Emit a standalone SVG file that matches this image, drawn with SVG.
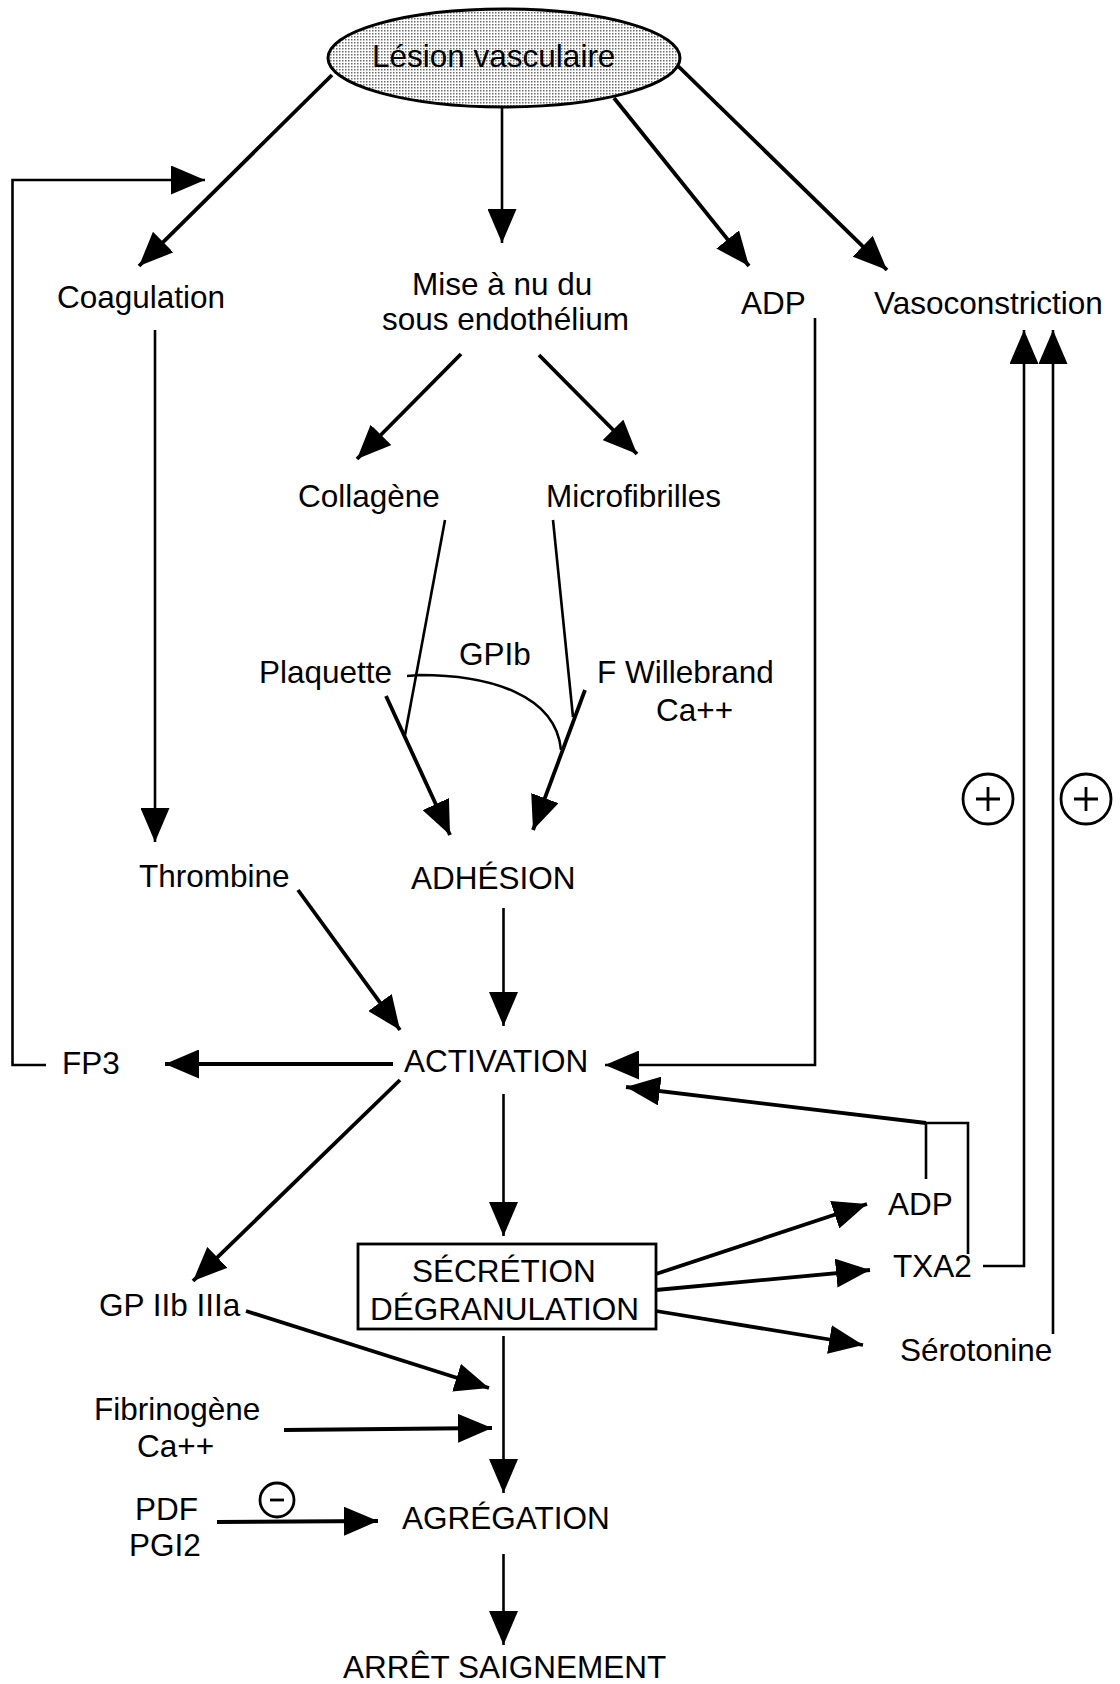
<svg xmlns="http://www.w3.org/2000/svg" width="1120" height="1684" viewBox="0 0 1120 1684">
<defs>
<pattern id="dots" width="3" height="3" patternUnits="userSpaceOnUse">
<rect width="3" height="3" fill="#ffffff"/>
<rect width="1.5" height="1.5" fill="#6a6a6a"/>
</pattern>
<marker id="ah" markerWidth="34" markerHeight="29" refX="34" refY="14.5" orient="auto" markerUnits="userSpaceOnUse">
<path d="M0,0 L34,14.5 L0,29 Z" fill="#000"/>
</marker>
</defs>
<style>
text{font-family:"Liberation Sans",Arial,Helvetica,sans-serif;font-size:31.5px;fill:#000}
.thick{stroke:#000;stroke-width:3.8;fill:none}
.thin{stroke:#000;stroke-width:2.6;fill:none}
.arr{marker-end:url(#ah)}
.ring{stroke:#000;stroke-width:2.8;fill:none}
</style>
<rect width="1120" height="1684" fill="#fff"/>

<g id="connectors">
<line class="thick arr" x1="332" y1="75" x2="139" y2="266"/>
<line class="thick arr" x1="614" y1="98" x2="749" y2="266"/>
<line class="thick arr" x1="678" y1="66" x2="887" y2="270"/>
<line class="thick arr" x1="461" y1="354" x2="357" y2="459"/>
<line class="thick arr" x1="539" y1="355" x2="637" y2="454"/>
<line class="thick arr" x1="386" y1="696" x2="450" y2="835"/>
<line class="thick arr" x1="585" y1="690" x2="533" y2="830"/>
<line class="thick arr" x1="298" y1="890" x2="400" y2="1030"/>
<line class="thick arr" x1="393" y1="1064" x2="165" y2="1064"/>
<line class="thick arr" x1="400" y1="1080" x2="193" y2="1281"/>
<line class="thick arr" x1="926" y1="1123" x2="626" y2="1087"/>
<line class="thick arr" x1="656" y1="1274" x2="867" y2="1204"/>
<line class="thick arr" x1="656" y1="1290" x2="870" y2="1270"/>
<line class="thick arr" x1="656" y1="1311" x2="863" y2="1345"/>
<line class="thick arr" x1="246" y1="1311" x2="489" y2="1388"/>
<line class="thick arr" x1="284" y1="1430" x2="492" y2="1428"/>
<line class="thick arr" x1="217" y1="1522" x2="378" y2="1521"/>

<line class="thin arr" x1="502" y1="107" x2="502" y2="243"/>
<line class="thin arr" x1="155" y1="330" x2="155" y2="842"/>
<line class="thin arr" x1="503.5" y1="908" x2="503.5" y2="1026"/>
<line class="thin arr" x1="503.5" y1="1094" x2="503.5" y2="1236"/>
<line class="thin arr" x1="503.5" y1="1336" x2="503.5" y2="1493"/>
<line class="thin arr" x1="503.5" y1="1554" x2="503.5" y2="1645"/>

<polyline class="thin arr" points="46,1065 12.5,1065 12.5,180 205,180"/>
<polyline class="thin arr" points="815,318 815,1065 605,1065"/>
<polyline class="thin arr" points="983,1266 1024,1266 1024,330"/>
<polyline class="thin arr" points="1053,1334 1053,330"/>

<line class="thin" x1="445" y1="520" x2="405" y2="735"/>
<line class="thin" x1="553" y1="520" x2="573" y2="717"/>
<path class="thin" d="M407,676 L420,675 C490,675 556,695 561,750"/>
<polyline class="thin" points="926,1179 926,1123 968,1123 968,1254"/>
</g>

<g id="lesion">
<ellipse cx="504" cy="58" rx="176" ry="49" fill="url(#dots)" stroke="#000" stroke-width="3"/>
<text x="372" y="67">Lésion vasculaire</text>
</g>
<g id="coagulation"><text x="57" y="308">Coagulation</text></g>
<g id="mise"><text x="412" y="295">Mise à nu du</text><text x="382" y="330">sous endothélium</text></g>
<g id="adp1"><text x="741" y="314">ADP</text></g>
<g id="vaso"><text x="874" y="314">Vasoconstriction</text></g>
<g id="collagene"><text x="298" y="507">Collagène</text></g>
<g id="microfibrilles"><text x="546" y="507">Microfibrilles</text></g>
<g id="gpib"><text x="459" y="665">GPIb</text></g>
<g id="plaquette"><text x="259" y="683">Plaquette</text></g>
<g id="willebrand"><text x="597" y="683">F Willebrand</text><text x="656" y="721">Ca++</text></g>
<g id="thrombine"><text x="139" y="887">Thrombine</text></g>
<g id="adhesion"><text x="411" y="889">ADHÉSION</text></g>
<g id="fp3"><text x="62" y="1074">FP3</text></g>
<g id="activation"><text x="404" y="1072">ACTIVATION</text></g>
<g id="adp2"><text x="888" y="1215">ADP</text></g>
<g id="secretion">
<rect x="358" y="1244" width="298" height="85" fill="none" stroke="#000" stroke-width="2.8"/>
<text x="412" y="1282">SÉCRÉTION</text>
<text x="370" y="1320">DÉGRANULATION</text>
</g>
<g id="txa2"><text x="893" y="1277">TXA2</text></g>
<g id="gp2b3a"><text x="99" y="1316">GP IIb IIIa</text></g>
<g id="serotonine"><text x="900" y="1361">Sérotonine</text></g>
<g id="fibrinogene"><text x="94" y="1420">Fibrinogène</text><text x="137" y="1457">Ca++</text></g>
<g id="pdf"><text x="135" y="1520">PDF</text><text x="129" y="1556">PGI2</text></g>
<g id="agregation"><text x="402" y="1529">AGRÉGATION</text></g>
<g id="arret"><text x="343" y="1678">ARRÊT SAIGNEMENT</text></g>

<g id="plus1"><circle class="ring" cx="988" cy="799" r="25"/><path class="ring" d="M976,799 H1000 M988,787 V811"/></g>
<g id="plus2"><circle class="ring" cx="1086" cy="799" r="25"/><path class="ring" d="M1074,799 H1098 M1086,787 V811"/></g>
<g id="minus"><circle class="ring" cx="277" cy="1500" r="17"/><path class="ring" d="M270,1500 H284"/></g>
</svg>
